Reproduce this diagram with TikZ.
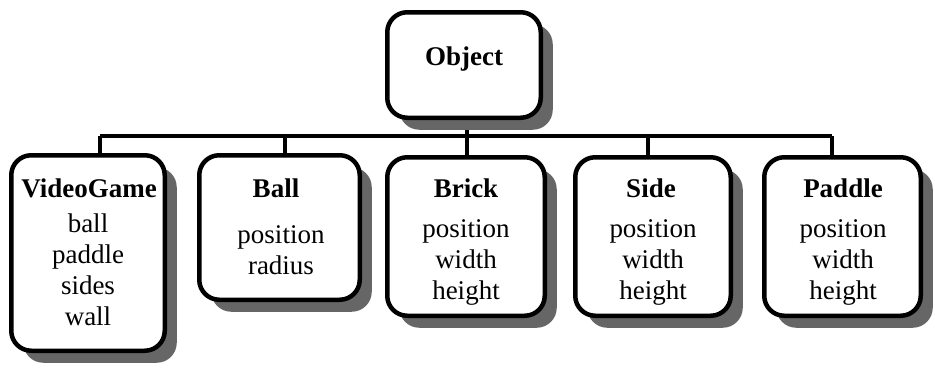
\documentclass[tikz,border=0pt]{standalone}
\usepackage{fontspec}
\setmainfont{Liberation Serif}
\usetikzlibrary{shadows}
\begin{document}
\begin{tikzpicture}[x=1pt,y=1pt,
  cbox/.style={draw, fill=white, line width=4.5pt, rounded corners=20pt,
    drop shadow={shadow xshift=12pt, shadow yshift=-12pt, fill=black!60, opacity=1}},
  ttl/.style={font=\fontsize{27}{31}\selectfont\bfseries, anchor=base, inner sep=0pt},
  body/.style={font=\fontsize{27}{31}\selectfont, anchor=base, align=center, inner sep=0pt},
  link/.style={line width=4.5pt}]
\useasboundingbox (0,0) rectangle (935,368);
% connector coordinates
\coordinate (bL) at (100,232);
\coordinate (bR) at (832,232);
\coordinate (bM) at (467,232);
\draw[link] (bL) -- (bR);
\draw[link] (bM) -- (467,260);
\draw[link] (bL) -- (100,210);
\draw[link] (285,232) -- (285,210);
\draw[link] (bM) -- (467,210);
\draw[link] (648,232) -- (648,210);
\draw[link] (bR) -- (832,210);
% boxes
\node[cbox, minimum width=153.5pt, minimum height=105.5pt] (obj) at (464,303) {};
\node[cbox, minimum width=153.5pt, minimum height=195.5pt] (vg) at (88,115) {};
\node[cbox, minimum width=160.5pt, minimum height=144.5pt] (ball) at (279.5,140.5) {};
\node[cbox, minimum width=157.5pt, minimum height=158.5pt] (brick) at (466,131.5) {};
\node[cbox, minimum width=155.5pt, minimum height=158.5pt] (side) at (653,131.5) {};
\node[cbox, minimum width=156.5pt, minimum height=158.5pt] (paddle) at (842.5,131.5) {};
% texts
\node[ttl] (objt) at (464,303) {Object};
\node[ttl] (vgt) at (89,171) {VideoGame};
\node[body] (vgb) at (88,43) {ball\\paddle\\sides\\wall};
\node[ttl] (ballt) at (276,171) {Ball};
\node[body] (ballb) at (281,94) {position\\radius};
\node[ttl] (brickt) at (466,171) {Brick};
\node[body] (brickb) at (466,69) {position\\width\\height};
\node[ttl] (sidet) at (651,171) {Side};
\node[body] (sideb) at (653,69) {position\\width\\height};
\node[ttl] (paddlet) at (843,171) {Paddle};
\node[body] (paddleb) at (843,69) {position\\width\\height};
\end{tikzpicture}
\end{document}
